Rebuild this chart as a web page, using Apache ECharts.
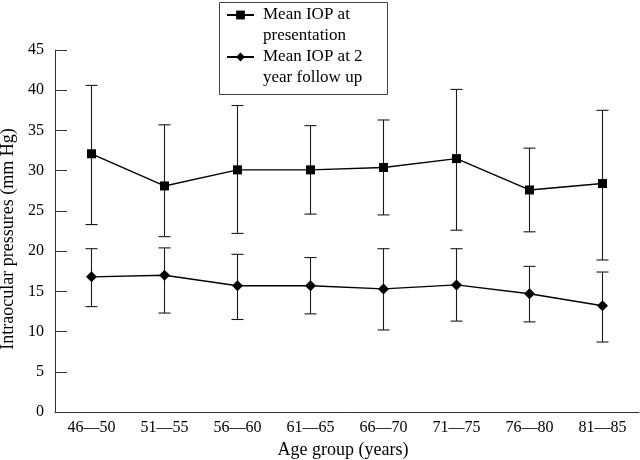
<!DOCTYPE html>
<html>
<head>
<meta charset="utf-8">
<script src="https://cdn.jsdelivr.net/npm/echarts@6/dist/echarts.min.js"></script>
<style>html,body{margin:0;padding:0;background:#fff}#chart{width:640px;height:460px}</style>
</head>
<body>
<div id="chart"></div>
<script>
var categories = ['46\u201450','51\u201455','56\u201460','61\u201465','66\u201470','71\u201475','76\u201480','81\u201485'];
var yTicks = [0,5,10,15,20,25,30,35,40,45];
var presMean  = [32.1, 28.1, 30.1, 30.1, 30.4, 31.5, 27.6, 28.4];
var presUpper = [40.6, 35.7, 38.1, 35.6, 36.3, 40.1, 32.8, 37.5];
var presLower = [23.3, 21.8, 22.2, 24.6, 24.5, 22.6, 22.4, 18.9];
var fuMean  = [16.8, 17.0, 15.7, 15.7, 15.3, 15.8, 14.7, 13.2];
var fuUpper = [20.3, 20.4, 19.6, 19.2, 20.3, 20.3, 18.1, 17.4];
var fuLower = [13.1, 12.3, 11.5, 12.2, 10.2, 11.3, 11.2, 8.7];
var seriesNames = ['Mean IOP at presentation', 'Mean IOP at 2 year follow up'];
var legendLabels = {'Mean IOP at presentation': 'Mean IOP at\npresentation', 'Mean IOP at 2 year follow up': 'Mean IOP at 2\nyear follow up'};

var FONT = '"Liberation Serif", "Times New Roman", serif';

function errData(lower, upper) {
  return categories.map(function (c, i) { return [i, lower[i], upper[i]]; });
}
function errRender(params, api) {
  var x = api.value(0);
  var lo = api.coord([x, api.value(1)]);
  var hi = api.coord([x, api.value(2)]);
  var w = 6;
  var st = {stroke: '#1a1a1a', lineWidth: 1.1};
  return {
    type: 'group',
    children: [
      {type: 'line', shape: {x1: hi[0], y1: hi[1], x2: lo[0], y2: lo[1]}, style: st},
      {type: 'line', shape: {x1: hi[0]-w, y1: hi[1], x2: hi[0]+w, y2: hi[1]}, style: st},
      {type: 'line', shape: {x1: lo[0]-w, y1: lo[1], x2: lo[0]+w, y2: lo[1]}, style: st}
    ]
  };
}

var chart = echarts.init(document.getElementById('chart'), null, {renderer: 'canvas'});
chart.setOption({
  animation: false,
  backgroundColor: '#fff',
  grid: {left: 55, right: 1, top: 50, bottom: 48, containLabel: false, outerBoundsMode: 'none'},
  legend: {
    orient: 'vertical',
    left: 226,
    top: -16.5,
    padding: 0,
    itemGap: -21,
    itemWidth: 27,
    itemHeight: 11,
    data: seriesNames,
    formatter: function (n) { return '\n' + legendLabels[n]; },
    textStyle: {fontFamily: FONT, fontSize: 17, color: '#000', lineHeight: 21, padding: [0, 0, 0, 4]}
  },
  graphic: [{
    type: 'rect', left: 217, top: 0,
    shape: {width: 168, height: 92},
    style: {fill: 'none', stroke: '#444', lineWidth: 1}
  }],
  xAxis: {
    type: 'category',
    data: categories,
    boundaryGap: true,
    name: 'Age group (years)',
    nameLocation: 'middle',
    nameGap: 27,
    nameTextStyle: {fontFamily: FONT, fontSize: 18, color: '#000', padding: [0, 8, 0, 0]},
    axisLine: {lineStyle: {color: '#333', width: 1}},
    axisTick: {inside: true, length: 12, lineStyle: {color: '#333'}},
    axisLabel: {fontFamily: FONT, fontSize: 16, color: '#000', margin: 8},
    splitLine: {show: false}
  },
  yAxis: {
    type: 'value',
    min: yTicks[0],
    max: yTicks[yTicks.length - 1],
    interval: yTicks[1] - yTicks[0],
    name: 'Intraocular pressures (mm Hg)',
    nameLocation: 'middle',
    nameGap: 33,
    nameTextStyle: {fontFamily: FONT, fontSize: 18, color: '#000', padding: [0, 16, 0, 0]},
    axisLine: {show: true, lineStyle: {color: '#333', width: 1}},
    axisTick: {show: true, inside: true, length: 12, lineStyle: {color: '#333'}},
    axisLabel: {fontFamily: FONT, fontSize: 16, color: '#000', margin: 11},
    splitLine: {show: false}
  },
  series: [
    {
      type: 'custom', name: 'presErr', renderItem: errRender, data: errData(presLower, presUpper),
      encode: {x: 0, y: [1, 2]}, z: 1, silent: true
    },
    {
      type: 'custom', name: 'fuErr', renderItem: errRender, data: errData(fuLower, fuUpper),
      encode: {x: 0, y: [1, 2]}, z: 1, silent: true
    },
    {
      type: 'line', name: seriesNames[0], data: presMean,
      symbol: 'rect', symbolSize: 9, showAllSymbol: true,
      lineStyle: {color: '#000', width: 1.4},
      itemStyle: {color: '#000', borderWidth: 0},
      z: 3
    },
    {
      type: 'line', name: seriesNames[1], data: fuMean,
      symbol: 'diamond', symbolSize: 11, showAllSymbol: true,
      lineStyle: {color: '#000', width: 1.4},
      itemStyle: {color: '#000', borderWidth: 0},
      z: 3
    }
  ]
});
</script>
</body>
</html>
